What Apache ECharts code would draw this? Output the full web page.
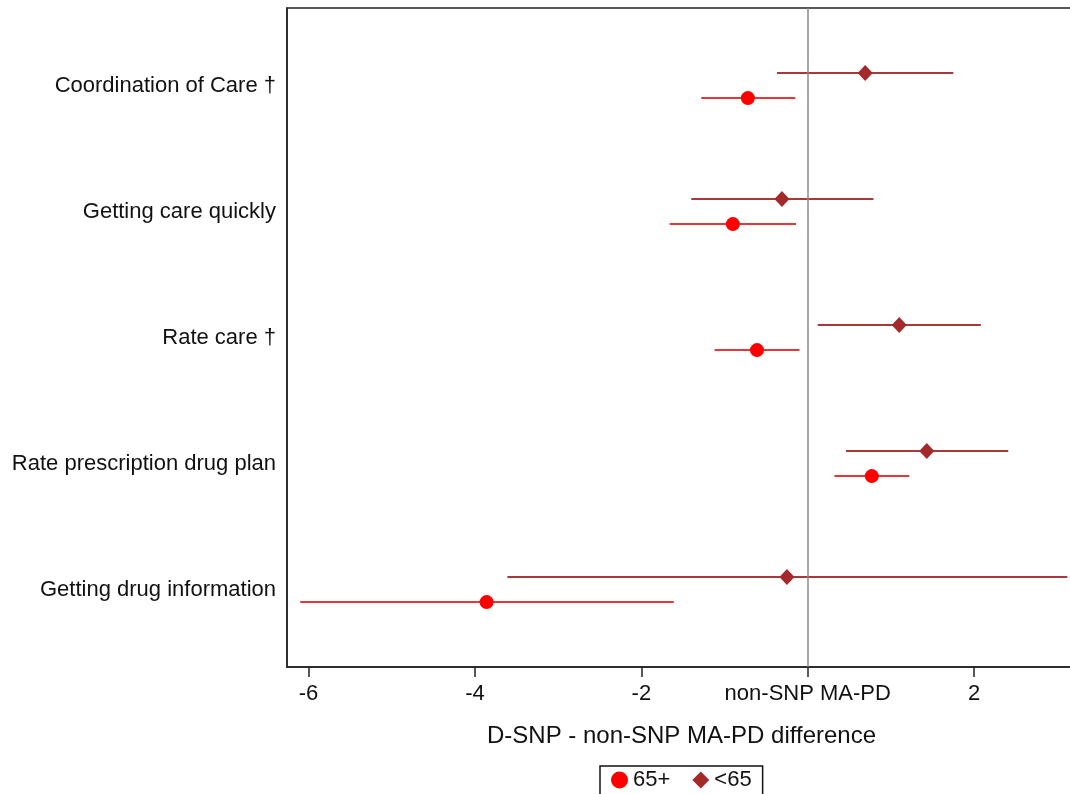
<!DOCTYPE html>
<html>
<head>
<meta charset="utf-8">
<script src="https://cdn.jsdelivr.net/npm/echarts@6/dist/echarts.min.js"></script>
<style>
  html, body { margin: 0; padding: 0; background: #fff; overflow: hidden; }
  /* a bit wider than the window so the plot's right border falls off the page */
  #chart { width: 1076px; height: 794px; }
</style>
</head>
<body>
<div id="chart"></div>
<script>
// measures, top to bottom
const categories = [
  "Coordination of Care †",
  "Getting care quickly",
  "Rate care †",
  "Rate prescription drug plan",
  "Getting drug information"
];

// 65+ : estimate and interval
const est65plus = [-0.72, -0.90, -0.61, 0.77, -3.86];
const lo65plus = [-1.28, -1.66, -1.12, 0.32, -6.10];
const hi65plus = [-0.15, -0.14, -0.10, 1.22, -1.61];

// <65 : estimate and interval
const estUnder65 = [0.69, -0.31, 1.10, 1.43, -0.25];
const loUnder65 = [-0.37, -1.40, 0.12, 0.46, -3.61];
const hiUnder65 = [1.75, 0.79, 2.08, 2.41, 3.12];

const xTicks = [-6, -4, -2, 0, 2];
const zeroLabel = "non-SNP MA-PD";

const FONT = "'Liberation Sans', Arial, Helvetica, sans-serif";
const RED = "#ff0000";
const RED_LINE = "#e43838";
const BROWN = "#a3292a";
const BROWN_LINE = "#a63a3a";

// rows sit on integer positions, the two groups are shifted a bit up/down
const shift = 0.1;

const errBar = (lo, hi, off) =>
  categories.map((c, i) => [lo[i], hi[i], i + off]);

const renderBar = color => (params, api) => {
  const a = api.coord([api.value(0), api.value(2)]);
  const b = api.coord([api.value(1), api.value(2)]);
  return {
    type: "line",
    shape: { x1: a[0], y1: a[1], x2: b[0], y2: b[1] },
    style: { stroke: color, lineWidth: 2 }
  };
};

const chart = echarts.init(document.getElementById("chart"));

const option = {
  animation: false,
  textStyle: { fontFamily: FONT },
  grid: {
    left: 287,
    top: 8,
    right: 0,
    bottom: 127,
    show: true,
    borderColor: "#222",
    borderWidth: 1.5
  },
  legend: {
    data: [
      { name: "65+", icon: "circle" },
      { name: "<65", icon: "diamond" }
    ],
    left: 600,
    top: 766,
    orient: "horizontal",
    padding: [3, 11, 6, 11],
    itemWidth: 17,
    itemHeight: 17,
    itemGap: 22,
    borderColor: "#111",
    borderWidth: 1.5,
    textStyle: { fontSize: 22, color: "#111", fontFamily: FONT }
  },
  xAxis: {
    type: "value",
    min: -6.259,
    max: 3.224,
    name: "D-SNP - non-SNP MA-PD difference",
    nameLocation: "middle",
    nameGap: 57,
    nameTextStyle: { fontSize: 24, color: "#111", fontFamily: FONT },
    axisLine: { show: true, onZero: false, lineStyle: { color: "#222", width: 1.5 } },
    axisTick: {
      show: true,
      customValues: xTicks,
      length: 10,
      lineStyle: { color: "#222", width: 1.5 }
    },
    axisLabel: {
      customValues: xTicks,
      margin: 16,
      fontSize: 22,
      color: "#111",
      fontFamily: FONT,
      formatter: v => (v === 0 ? zeroLabel : String(v))
    },
    splitLine: { show: false }
  },
  yAxis: {
    type: "value",
    inverse: true,
    min: -0.615,
    max: 4.615,
    axisLine: { show: true, onZero: false, lineStyle: { color: "#222", width: 1.5 } },
    axisTick: { show: false },
    axisLabel: {
      customValues: [0, 1, 2, 3, 4],
      margin: 11,
      fontSize: 22,
      color: "#111",
      fontFamily: FONT,
      formatter: v => categories[Math.round(v)]
    },
    splitLine: { show: false }
  },
  series: [
    {
      name: "ci65plus",
      type: "custom",
      renderItem: renderBar(RED_LINE),
      encode: { x: [0, 1], y: 2 },
      data: errBar(lo65plus, hi65plus, shift),
      silent: true,
      z: 2
    },
    {
      name: "ciUnder65",
      type: "custom",
      renderItem: renderBar(BROWN_LINE),
      encode: { x: [0, 1], y: 2 },
      data: errBar(loUnder65, hiUnder65, -shift),
      silent: true,
      z: 2
    },
    {
      name: "65+",
      type: "scatter",
      symbol: "circle",
      symbolSize: 14,
      itemStyle: { color: RED, opacity: 1 },
      data: categories.map((c, i) => [est65plus[i], i + shift]),
      z: 4,
      markLine: {
        silent: true,
        symbol: "none",
        label: { show: false },
        lineStyle: { color: "#8a8a8a", width: 1.5, type: "solid" },
        data: [{ xAxis: 0 }]
      }
    },
    {
      name: "<65",
      type: "scatter",
      symbol: "diamond",
      symbolSize: [15, 16],
      itemStyle: { color: BROWN, opacity: 1 },
      data: categories.map((c, i) => [estUnder65[i], i - shift]),
      z: 4
    }
  ]
};

chart.setOption(option);
</script>
</body>
</html>
